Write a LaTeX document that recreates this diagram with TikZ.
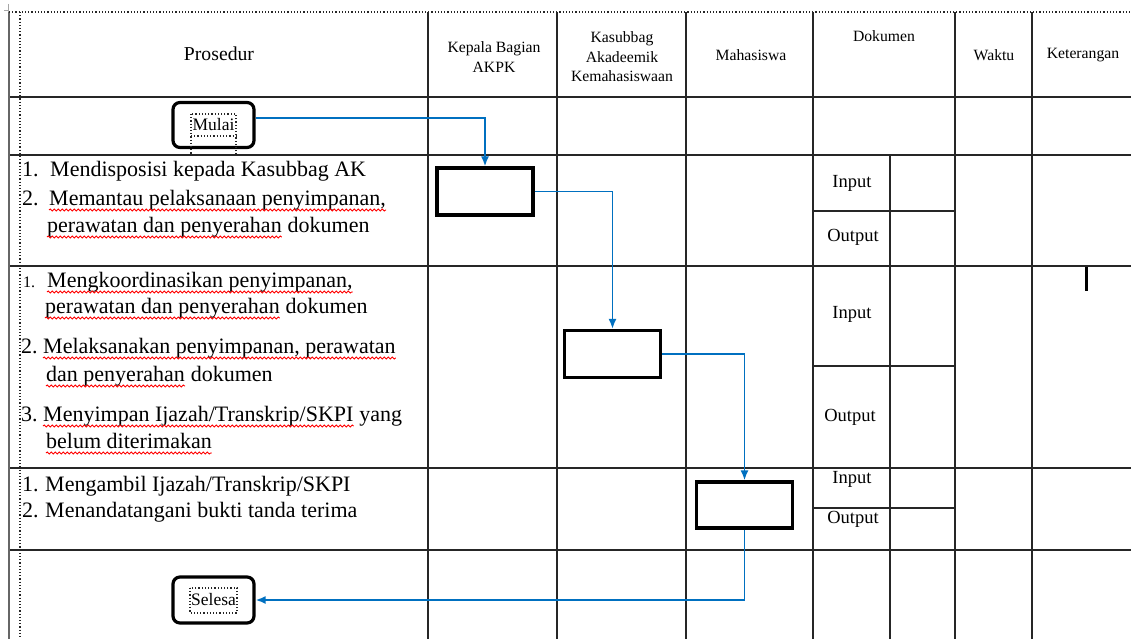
\documentclass[tikz,border=0pt]{standalone}
\usepackage{fontspec}
\setmainfont{Liberation Serif}
\usetikzlibrary{arrows.meta,calc,decorations.pathmorphing}
\definecolor{biru}{RGB}{0,112,192}
\tikzset{garis/.style={color=#1,line width=1.6pt},garis/.default=black!85}
\tikzset{kotak/.style={draw=#1,line width=3.2pt,minimum width=96pt,minimum height=47pt,inner sep=0pt},kotak/.default=black}
\tikzset{terminal/.style={kotak,rounded corners=7pt,minimum width=81pt,minimum height=45pt,font=\fontsize{17.5}{20}\selectfont}}
\tikzset{alur/.style={color=#1,line width=1.8pt,-{Latex[length=10pt,width=8pt]}},alur/.default=biru}
\tikzset{isi/.style={anchor=base west,inner sep=0pt,font=\fontsize{22}{26}\selectfont}}
\tikzset{judul/.style={align=center,inner sep=0pt,font=\fontsize{15.7}{19.5}\selectfont}}
\tikzset{io/.style={inner sep=0pt,font=\fontsize{18.5}{20}\selectfont}}
\tikzset{bingkai/.style={dotted,line width=1.2pt,black!85}}
\tikzset{gelombang/.style={red,line width=0.9pt,decorate,decoration={snake,segment length=4pt,amplitude=1pt}}}

\begin{document}
\begin{tikzpicture}[x=1pt,y=-1pt]
	\useasboundingbox (0,0) rectangle (1131,639);

	% Tabel
	\foreach \y in {97,155,266,468,550}
		\draw [garis] (9,\y) -- (1131,\y);
	\foreach \x in {428,557,686,813,955,1032}
		\draw [garis] (\x,12) -- (\x,639);
	\draw [garis] (890,155) -- (890,639);
	\foreach \y in {211,366,508}
		\draw [garis] (813,\y) -- (955,\y);
	\draw [garis=black!60,line width=2.2pt] (9,12) -- (9,639);
	\draw [bingkai] (9,12) -- (1131,12);
	\draw [bingkai] (20,12) -- (20,639);
	\draw [black!35,line width=1pt] (8,4) -- (8,12) (4,11) -- (9,11);

	% Kepala tabel
	\node [font=\fontsize{19.7}{22}\selectfont,inner sep=0pt] (prosedur) at (219,54) {Prosedur};
	\node [judul] (hkabag) at (494,57) {Kepala Bagian\\AKPK};
	\node [judul] (hksb) at (622,57) {Kasubbag\\Akadeemik\\Kemahasiswaan};
	\node [judul] (hmhs) at (751,55) {Mahasiswa};
	\node [judul] (hdok) at (884,36) {Dokumen};
	\node [judul] (hwaktu) at (994,55) {Waktu};
	\node [judul] (hket) at (1083,55) {Keterangan};

	% Isi prosedur
	\node [isi] (n1a) at (22,177) {1.};
	\node [isi] (t1a) at (50,177) {Mendisposisi kepada Kasubbag AK};
	\node [isi] (n1b) at (22,205) {2.};
	\node [isi] (t1b) at (49,205) {Memantau pelaksanaan penyimpanan,};
	\node [isi] (t1c) at (47,232) {perawatan dan penyerahan};
	\node [isi] (d1c) at ($(t1c.base east)+(5.5,0)$) {dokumen};

	\node [isi,font=\fontsize{16}{18}\selectfont] (n2a) at (23,287) {1.};
	\node [isi] (t2a) at (47,287) {Mengkoordinasikan penyimpanan,};
	\node [isi] (t2b) at (45,313) {perawatan dan penyerahan};
	\node [isi] (d2b) at ($(t2b.base east)+(5.5,0)$) {dokumen};
	\node [isi] (n2c) at (21,353) {2.};
	\node [isi] (t2c) at (43,353) {Melaksanakan penyimpanan, perawatan};
	\node [isi] (t2d) at (46,381) {dan penyerahan};
	\node [isi] (d2d) at ($(t2d.base east)+(5.5,0)$) {dokumen};
	\node [isi] (n2e) at (21,421) {3.};
	\node [isi] (t2e) at (43,421) {Menyimpan Ijazah/Transkrip/SKPI};
	\node [isi] (d2e) at ($(t2e.base east)+(5.5,0)$) {yang};
	\node [isi] (t2f) at (46,448) {belum diterimakan};

	\node [isi] (n3a) at (22,491) {1.};
	\node [isi] (t3a) at (45,491) {Mengambil Ijazah/Transkrip/SKPI};
	\node [isi] (n3b) at (22,517) {2.};
	\node [isi] (t3b) at (45,517) {Menandatangani bukti tanda terima};

	% garis merah di bawah kata
	\foreach \n in {t1b,t1c,t2a,t2b,t2c,t2d,t2e,t2f}
		\draw [gelombang] ($(\n.base west)+(0,5)$) -- ($(\n.base east)+(0,5)$);

	% Input / Output
	\node [io] (in1) at (852,183) {Input};
	\node [io] (out1) at (853,237) {Output};
	\node [io] (in2) at (852,314) {Input};
	\node [io] (out2) at (850,417) {Output};
	\node [io] (in3) at (852,479) {Input};
	\node [io] (out3) at (853,519) {Output};

	% Simbol alir
	\node [terminal] (mulai) at (213.5,125) {Mulai};
	\node [kotak] (kabag) at (485,191.5) {};
	\node [kotak] (ksb) at (612.5,354) {};
	\node [kotak,minimum height=46pt] (mhs) at (744.5,505) {};
	\node [terminal,minimum height=46pt] (selesai) at (213.5,600) {Selesa};

	% Bingkai teks
	\draw [bingkai] (191,114) rectangle (236,155);
	\draw [bingkai] (191,136) -- (236,136);
	\draw [bingkai] (190,588) rectangle (237,613);

	% Garis alir
	\draw [alur] ($(mulai.east)+(0,-7)$) -| (kabag.north);
	\draw [alur] (kabag.east) -| (ksb.north);
	\draw [alur] (ksb.east) -| (mhs.north);
	\draw [alur] (mhs.south) |- (selesai.east);

	% Kursor
	\draw [line width=3pt] (1086,267) -- (1086,291);
\end{tikzpicture}
\end{document}
